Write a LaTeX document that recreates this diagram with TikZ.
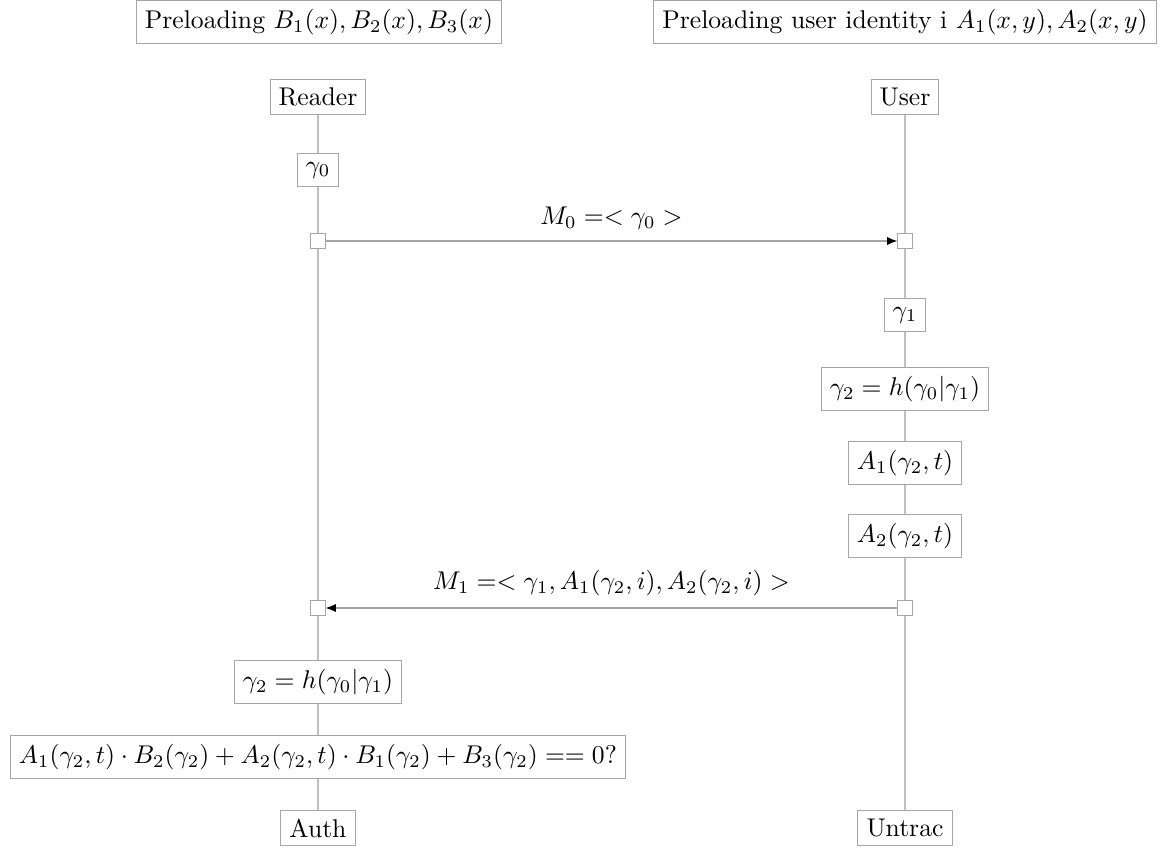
\documentclass[tikz,border=0pt]{standalone}
\usetikzlibrary{arrows.meta}
\begin{document}
\begin{tikzpicture}[x=0.39pt,y=-0.39pt,
  box/.style={draw=gray!70,fill=white,line width=0.4pt,inner sep=3.33pt},
  sq/.style={draw=gray!70,fill=white,line width=0.4pt,minimum size=5.6pt,inner sep=0pt},
  life/.style={draw=gray!50,line width=0.4pt},
  msg/.style={draw=gray!70,line width=0.4pt,-{Latex[length=4pt,width=3.2pt,color=black]}}]
\useasboundingbox (0,0) rectangle (1176,850);
% top notes
\node[box] (preB) at (319,22) {Preloading $B_1(x),B_2(x),B_3(x)$};
\node[box] (preA) at (905,22) {Preloading user identity i $A_1(x,y),A_2(x,y)$};
% heads
\node[box] (reader) at (318,97) {Reader};
\node[box] (user) at (905,97) {User};
% left column
\node[box] (g0) at (318,170) {$\gamma_0$};
\node[sq] (s0L) at (318,241) {};
\node[sq] (s1L) at (318,608) {};
\node[box] (hL) at (318,682) {$\gamma_2=h(\gamma_0|\gamma_1)$};
\node[box] (eq) at (318,757) {$A_1(\gamma_2,t)\cdot B_2(\gamma_2)+A_2(\gamma_2,t)\cdot B_1(\gamma_2)+B_3(\gamma_2)==0?$};
\node[box] (auth) at (318,828) {Auth};
% right column
\node[sq] (s0R) at (905,241) {};
\node[box] (g1) at (905,315) {$\gamma_1$};
\node[box] (hR) at (905,389) {$\gamma_2=h(\gamma_0|\gamma_1)$};
\node[box] (a1) at (905,463) {$A_1(\gamma_2,t)$};
\node[box] (a2) at (905,536) {$A_2(\gamma_2,t)$};
\node[sq] (s1R) at (905,608) {};
\node[box] (untrac) at (905,828) {Untrac};
% lifelines
\draw[life] (reader) -- (g0);
\draw[life] (g0) -- (s0L);
\draw[life] (s0L) -- (s1L);
\draw[life] (s1L) -- (hL);
\draw[life] (hL) -- (hL|-eq.north);
\draw[life] (hL|-eq.south) -- (auth);
\draw[life] (user) -- (s0R);
\draw[life] (s0R) -- (g1);
\draw[life] (g1) -- (hR);
\draw[life] (hR) -- (a1);
\draw[life] (a1) -- (a2);
\draw[life] (a2) -- (s1R);
\draw[life] (s1R) -- (untrac);
% messages
\draw[msg] (s0L) -- node[above=1pt,text=black] (m0) {$M_0=<\gamma_0>$} (s0R);
\draw[msg] (s1R) -- node[above=1pt,text=black] (m1) {$M_1=<\gamma_1,A_1(\gamma_2,i),A_2(\gamma_2,i)>$} (s1L);
\end{tikzpicture}
\end{document}
